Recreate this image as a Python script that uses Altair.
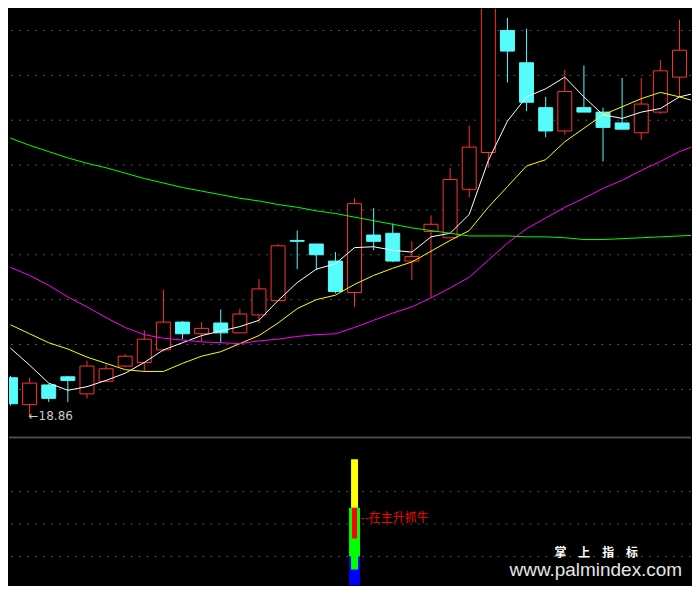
import altair as alt
import pandas as pd

# ---------------- data ----------------
idx = list(range(37))
open_ = [19.29, 18.99, 19.21, 19.30, 19.11, 19.25, 19.42, 19.46, 19.60, 19.91,
         19.78, 19.90, 19.79, 19.99, 20.15, 20.82, 20.78, 20.59, 20.24, 20.88,
         20.90, 20.59, 20.92, 20.85, 21.39, 21.80, 23.16, 22.80, 22.30, 22.04,
         22.30, 22.25, 22.13, 22.02, 22.25, 22.64, 22.80]
high = [19.31, 19.29, 19.22, 19.31, 19.48, 19.44, 19.55, 19.82, 20.27, 19.92,
        19.91, 20.05, 20.06, 20.39, 20.78, 20.93, 20.78, 20.69, 21.29, 21.18,
        21.01, 20.81, 21.10, 21.63, 22.10, 23.44, 23.30, 23.18, 22.42, 22.72,
        22.77, 22.30, 22.63, 22.63, 22.83, 23.28, 22.82]
low = [18.98, 18.86, 19.02, 19.02, 19.06, 19.25, 19.41, 19.36, 19.58, 19.72,
       19.69, 19.68, 19.79, 19.90, 20.15, 20.50, 20.49, 20.23, 20.08, 20.71,
       20.58, 20.38, 20.19, 20.85, 21.30, 21.63, 22.58, 22.26, 21.97, 22.00,
       22.25, 21.70, 22.06, 21.94, 22.23, 22.42, 22.27]
close = [19.00, 19.23, 19.06, 19.26, 19.42, 19.39, 19.53, 19.72, 19.91, 19.78,
         19.84, 19.79, 20.00, 20.28, 20.76, 20.81, 20.66, 20.25, 21.23, 20.81,
         20.59, 20.64, 21.00, 21.50, 21.86, 23.44, 22.93, 22.36, 22.04, 22.48,
         22.25, 22.08, 22.06, 22.34, 22.71, 22.94, 22.29]

ma5 = [19.62, 19.43, 19.23, 19.15, 19.19, 19.26, 19.34, 19.46, 19.60, 19.68,
       19.76, 19.81, 19.86, 19.93, 20.15, 20.35, 20.50, 20.56, 20.74, 20.75,
       20.71, 20.69, 20.86, 20.90, 21.11, 21.71, 22.15, 22.42, 22.51, 22.64,
       22.42, 22.22, 22.18, 22.25, 22.29, 22.42, 22.47]
ma10 = [19.88, 19.78, 19.68, 19.61, 19.52, 19.45, 19.38, 19.36, 19.36, 19.45,
        19.53, 19.58, 19.67, 19.76, 19.90, 20.06, 20.16, 20.21, 20.33, 20.43,
        20.51, 20.58, 20.70, 20.82, 20.93, 21.19, 21.42, 21.65, 21.72, 21.92,
        22.07, 22.22, 22.31, 22.40, 22.47, 22.42, 22.36]
ma30 = [20.52, 20.43, 20.32, 20.19, 20.08, 19.96, 19.85, 19.77, 19.73, 19.71,
        19.69, 19.68, 19.67, 19.70, 19.72, 19.75, 19.77, 19.78, 19.85, 19.93,
        20.01, 20.08, 20.18, 20.29, 20.41, 20.60, 20.79, 20.95, 21.07, 21.19,
        21.29, 21.40, 21.49, 21.60, 21.70, 21.81, 21.89]
ma60 = [21.96, 21.88, 21.81, 21.74, 21.68, 21.63, 21.57, 21.51, 21.46, 21.41,
        21.37, 21.33, 21.29, 21.26, 21.22, 21.19, 21.15, 21.12, 21.08, 21.04,
        21.00, 20.96, 20.93, 20.90, 20.87, 20.87, 20.87, 20.86, 20.86, 20.85,
        20.83, 20.83, 20.84, 20.85, 20.86, 20.87, 20.88]

grid_top = [23.16, 22.66, 22.16, 21.66, 21.16, 20.66, 20.16, 19.66, 19.16]
grid_bottom = [20, 40, 60]

low_label = "←18.86"
low_label_idx = 1
low_label_val = 18.86

# lower indicator panel: one stacked signal stick
sig_idx = [18, 18, 18, 18, 18]
sig_lo = [0, 20, 12, 31, 50]
sig_hi = [20, 50, 50, 50, 80]
sig_color = ["#0000FF", "#00FF00", "#00FF00", "#FF0000", "#FFFF00"]
sig_width = [11, 11, 7, 5, 7]
sig_text = "--在主升抓牛"
sig_text_val = 43.7

UP = "#FF3232"
DOWN = "#54FCFC"

# ---------------- frames ----------------
df = pd.DataFrame({"i": idx, "open": open_, "high": high, "low": low, "close": close})
up = df["close"] >= df["open"]
df["col"] = [UP if u else DOWN for u in up]
df["fill"] = ["#000000" if u else DOWN for u in up]

ma_names = ["MA5", "MA10", "MA30", "MA60"]
ma_colors = ["#FFFFFF", "#FFFF00", "#FF00FF", "#00FF00"]
ma_df = pd.concat([
    pd.DataFrame({"i": idx, "v": vals, "name": n})
    for n, vals in zip(ma_names, [ma5, ma10, ma30, ma60])
])

W = 684
H_TOP = 429
H_BOT = 149

xs = alt.Scale(domain=[-0.078, 35.603], nice=False, zero=False, padding=0)
ys = alt.Scale(domain=[18.634, 23.401], nice=False, zero=False, padding=0)
X = alt.X("i:Q", scale=xs, axis=None)

grid1 = alt.Chart(pd.DataFrame({"g": grid_top})).mark_rule(
    color="#555555", strokeDash=[2, 6], strokeWidth=1
).encode(y=alt.Y("g:Q", scale=ys, axis=None))

base = alt.Chart(df)
wicks = base.mark_rule(strokeWidth=1, clip=True).encode(
    x=X,
    y=alt.Y("low:Q", scale=ys, axis=None),
    y2="high:Q",
    color=alt.Color("col:N", scale=None),
)
bodies = base.mark_bar(size=14, strokeWidth=1, clip=True).encode(
    x=X,
    y=alt.Y("open:Q", scale=ys, axis=None),
    y2="close:Q",
    fill=alt.Fill("fill:N", scale=None),
    stroke=alt.Stroke("col:N", scale=None),
)
lines = alt.Chart(ma_df).mark_line(strokeWidth=1, clip=True).encode(
    x=X,
    y=alt.Y("v:Q", scale=ys, axis=None),
    color=alt.Color("name:N", scale=alt.Scale(domain=ma_names, range=ma_colors), legend=None),
    detail="name:N",
)
lowtxt = alt.Chart(pd.DataFrame({"i": [low_label_idx], "v": [low_label_val], "t": [low_label]})).mark_text(
    align="left", baseline="middle", fontSize=12, font="DejaVu Sans", color="#C8C8C8", dx=-1
).encode(x=X, y=alt.Y("v:Q", scale=ys, axis=None), text="t:N")

top = alt.layer(grid1, wicks, bodies, lines, lowtxt).properties(width=W, height=H_TOP)

# ---------------- lower panel ----------------
ys2 = alt.Scale(domain=[2.28, 93.97], nice=False, zero=False, padding=0)
grid2 = alt.Chart(pd.DataFrame({"g": grid_bottom})).mark_rule(
    color="#555555", strokeDash=[2, 6], strokeWidth=1
).encode(y=alt.Y("g:Q", scale=ys2, axis=None))
sep = alt.Chart(pd.DataFrame({"a": [0]})).mark_rule(color="#4A4A4A", strokeWidth=2).encode(
    y=alt.value(1)
)
sig_df = pd.DataFrame({"i": sig_idx, "lo": sig_lo, "hi": sig_hi, "c": sig_color,
                       "w": sig_width, "o": list(range(len(sig_idx)))})
sig = alt.Chart(sig_df).mark_bar(clip=True).encode(
    x=X,
    y=alt.Y("lo:Q", scale=ys2, axis=None),
    y2="hi:Q",
    color=alt.Color("c:N", scale=None),
    size=alt.Size("w:Q", scale=None),
    order=alt.Order("o:Q"),
)
sigtxt = alt.Chart(pd.DataFrame({"i": [sig_idx[0]], "v": [sig_text_val], "t": [sig_text]})).mark_text(
    align="left", baseline="middle", fontSize=12, font="Noto Sans CJK SC", color="#FF0000", dx=6
).encode(x=X, y=alt.Y("v:Q", scale=ys2, axis=None), text="t:N")

wm1 = alt.Chart(pd.DataFrame({"t": ["掌\u3000上\u3000指\u3000标"]})).mark_text(
    align="left", baseline="middle", fontSize=12, font="Noto Sans CJK SC", fontWeight="bold",
    color="#FFFFFF"
).encode(x=alt.value(547), y=alt.value(117), text="t:N")
wm2 = alt.Chart(pd.DataFrame({"t": ["www.palmindex.com"]})).mark_text(
    align="left", baseline="middle", fontSize=19, font="Liberation Sans", color="#E6E6E6"
).encode(x=alt.value(502), y=alt.value(133.5), text="t:N")

bottom = alt.layer(grid2, sep, sig, sigtxt, wm1, wm2).properties(width=W, height=H_BOT)

chart = alt.vconcat(top, bottom, spacing=0).properties(
    background="#000000", padding=0
).configure_view(stroke=None)

chart.save("out.html", embed_options={"renderer": "svg", "actions": False})
